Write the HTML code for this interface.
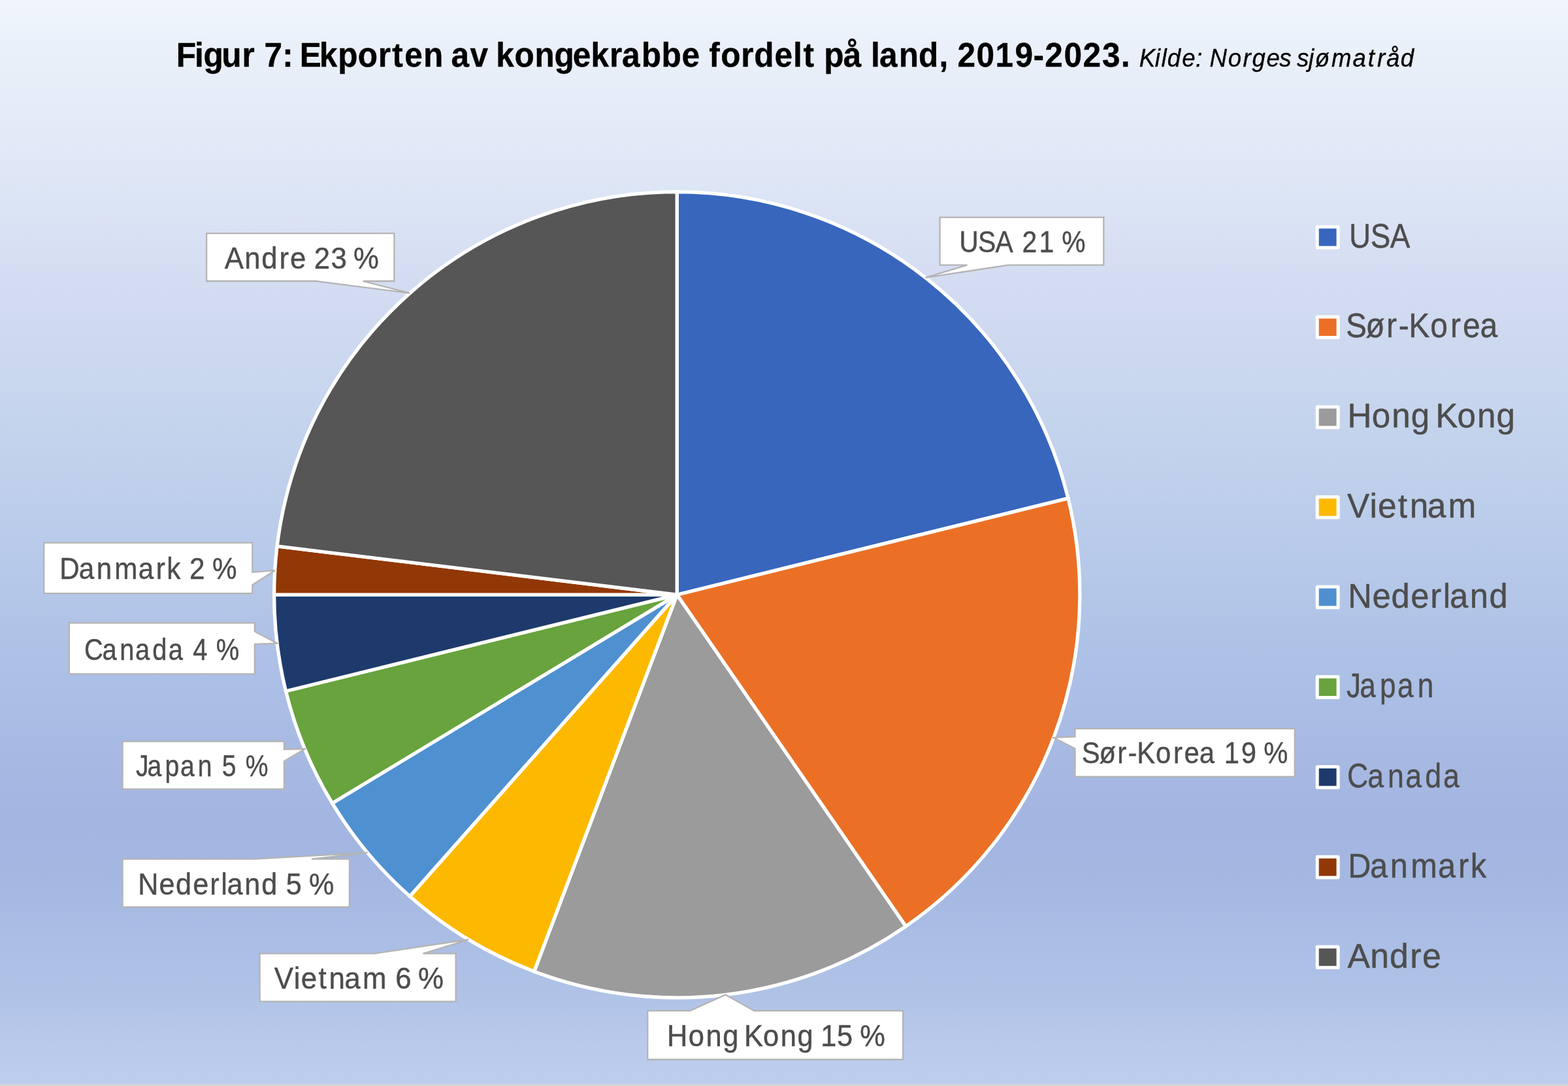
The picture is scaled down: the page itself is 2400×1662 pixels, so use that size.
<!DOCTYPE html>
<html lang="no">
<head>
<meta charset="utf-8">
<title>Figur 7: Ekporten av kongekrabbe fordelt på land, 2019-2023</title>
<style>
html,body{margin:0;padding:0;background:#BFCFEE;}
body{width:2400px;height:1662px;overflow:hidden;}
svg{display:block;}
text{font-family:"Liberation Sans",sans-serif;white-space:pre;}
</style>
</head>
<body>
<svg width="2400" height="1662" viewBox="0 0 2400 1662">
<defs><linearGradient id="bg" gradientUnits="userSpaceOnUse" x1="0" y1="0" x2="0" y2="1662">
<stop offset="0.00000" stop-color="#F0F4FD"/>
<stop offset="0.03610" stop-color="#EBF1FA"/>
<stop offset="0.12034" stop-color="#E3EAF7"/>
<stop offset="0.18051" stop-color="#DCE5F5"/>
<stop offset="0.24970" stop-color="#D5DDF2"/>
<stop offset="0.36101" stop-color="#C8D6EE"/>
<stop offset="0.50000" stop-color="#B9CBEA"/>
<stop offset="0.60168" stop-color="#AEC1E6"/>
<stop offset="0.75211" stop-color="#A3B5E1"/>
<stop offset="0.80024" stop-color="#A4B7E1"/>
<stop offset="0.84236" stop-color="#A8BBE3"/>
<stop offset="0.90253" stop-color="#AEC1E6"/>
<stop offset="0.93261" stop-color="#B3C5E8"/>
<stop offset="0.96270" stop-color="#B9CAEB"/>
<stop offset="0.99819" stop-color="#BECEED"/>
</linearGradient></defs>
<rect x="0" y="0" width="2400" height="1662" fill="url(#bg)"/>
<rect x="0" y="1659.3" width="2400" height="2.7" fill="#d6d6d6"/>
<g stroke="#ffffff" stroke-width="5.3" stroke-linejoin="round">
<path d="M1036.2,910.2 L1036.20,293.60 A616.6,616.6 0 0 1 1634.88,762.64 Z" fill="#3866BD"/>
<path d="M1036.2,910.2 L1634.88,762.64 A616.6,616.6 0 0 1 1386.47,1417.65 Z" fill="#EB7026"/>
<path d="M1036.2,910.2 L1386.47,1417.65 A616.6,616.6 0 0 1 817.55,1486.73 Z" fill="#9B9B9B"/>
<path d="M1036.2,910.2 L817.55,1486.73 A616.6,616.6 0 0 1 627.32,1371.73 Z" fill="#FDB900"/>
<path d="M1036.2,910.2 L627.32,1371.73 A616.6,616.6 0 0 1 508.53,1229.19 Z" fill="#4F90D0"/>
<path d="M1036.2,910.2 L508.53,1229.19 A616.6,616.6 0 0 1 437.52,1057.76 Z" fill="#68A33D"/>
<path d="M1036.2,910.2 L437.52,1057.76 A616.6,616.6 0 0 1 419.60,910.20 Z" fill="#1E3A6C"/>
<path d="M1036.2,910.2 L419.60,910.20 A616.6,616.6 0 0 1 424.10,835.88 Z" fill="#923806"/>
<path d="M1036.2,910.2 L424.10,835.88 A616.6,616.6 0 0 1 1036.20,293.60 Z" fill="#565656"/>
</g>
<g fill="#ffffff" stroke="#b4b4b4" stroke-width="2.3" stroke-linejoin="miter">
<path d="M1438.55,332.65 L1689.30,332.65 L1689.30,405.70 L1543.03,405.70 L1416.47,424.82 L1480.34,405.70 L1438.55,405.70 Z"/>
<path d="M316.15,357.05 L603.35,357.05 L603.35,430.25 L555.48,430.25 L627.32,448.67 L483.68,430.25 L316.15,430.25 Z"/>
<path d="M67.25,830.55 L386.35,830.55 L386.35,875.82 L420.72,872.97 L386.35,895.22 L386.35,908.15 L67.25,908.15 Z"/>
<path d="M105.85,953.45 L389.85,953.45 L389.85,966.43 L424.10,984.52 L389.85,985.91 L389.85,1031.35 L105.85,1031.35 Z"/>
<path d="M187.60,1134.60 L434.90,1134.60 L434.90,1146.76 L466.54,1146.16 L434.90,1165.00 L434.90,1207.55 L187.60,1207.55 Z"/>
<path d="M187.60,1314.65 L390.19,1314.65 L562.53,1304.96 L477.02,1314.65 L534.90,1314.65 L534.90,1388.15 L187.60,1388.15 Z"/>
<path d="M397.65,1459.35 L572.65,1459.35 L717.21,1437.87 L647.65,1459.35 L697.65,1459.35 L697.65,1532.70 L397.65,1532.70 Z"/>
<path d="M991.25,1546.85 L1056.40,1546.85 L1110.52,1522.30 L1154.12,1546.85 L1382.15,1546.85 L1382.15,1621.50 L991.25,1621.50 Z"/>
<path d="M1645.45,1115.15 L1981.75,1115.15 L1981.75,1188.55 L1645.45,1188.55 L1645.45,1145.73 L1612.73,1128.85 L1645.45,1127.38 Z"/>
</g>
<g>
<text transform="scale(0.8908,1)" x="1648.36 1680.55 1710.16 1741.81 1756.25 1785.41 1811.95 1824.58" y="386.40" font-size="45.86" font-weight="normal" font-style="normal" fill="#4d4d4d" stroke="#4d4d4d" stroke-width="0.45" stroke-linejoin="round">USA 21 %</text>
<text transform="scale(0.9548,1)" x="360.15 391.98 419.16 447.76 465.01 490.83 503.45 530.50 556.27 566.68" y="411.10" font-size="45.86" font-weight="normal" font-style="normal" fill="#4d4d4d" stroke="#4d4d4d" stroke-width="0.45" stroke-linejoin="round">Andre 23 %</text>
<text transform="scale(0.9208,1)" x="99.17 131.22 160.41 190.34 229.92 259.30 277.18 301.29 314.85 341.40 352.95" y="886.40" font-size="45.86" font-weight="normal" font-style="normal" fill="#4d4d4d" stroke="#4d4d4d" stroke-width="0.45" stroke-linejoin="round">Danmark 2 %</text>
<text transform="scale(0.8701,1)" x="148.28 179.74 210.58 237.92 268.11 296.11 324.30 339.48 366.76 380.17" y="1009.60" font-size="45.86" font-weight="normal" font-style="normal" fill="#4d4d4d" stroke="#4d4d4d" stroke-width="0.45" stroke-linejoin="round">Canada 4 %</text>
<text transform="scale(0.8527,1)" x="243.81 264.34 296.06 323.71 355.15 383.25 398.48 426.56 440.66" y="1187.80" font-size="45.86" font-weight="normal" font-style="normal" fill="#4d4d4d" stroke="#4d4d4d" stroke-width="0.45" stroke-linejoin="round">Japan 5 %</text>
<text transform="scale(0.9420,1)" x="224.16 258.61 285.52 313.34 341.08 359.03 368.82 397.37 424.92 452.13 464.71 491.34 502.17" y="1369.00" font-size="45.86" font-weight="normal" font-style="normal" fill="#4d4d4d" stroke="#4d4d4d" stroke-width="0.45" stroke-linejoin="round">Nederland 5 %</text>
<text transform="scale(0.9572,1)" x="438.63 469.78 481.35 509.39 526.02 550.79 579.79 619.72 632.33 658.31 668.65" y="1513.40" font-size="45.86" font-weight="normal" font-style="normal" fill="#4d4d4d" stroke="#4d4d4d" stroke-width="0.45" stroke-linejoin="round">Vietnam 6 %</text>
<text transform="scale(0.9482,1)" x="1076.88 1111.27 1139.41 1166.60 1190.99 1201.31 1231.88 1260.02 1287.21 1311.60 1324.81 1350.95 1377.49 1388.12" y="1601.40" font-size="45.86" font-weight="normal" font-style="normal" fill="#4d4d4d" stroke="#4d4d4d" stroke-width="0.45" stroke-linejoin="round">Hong Kong 15 %</text>
<text transform="scale(0.9098,1)" x="1820.03 1849.22 1879.71 1897.77 1912.82 1944.50 1973.97 1992.26 2017.71 2045.27 2059.61 2088.00 2113.95 2125.89" y="1168.50" font-size="45.86" font-weight="normal" font-style="normal" fill="#4d4d4d" stroke="#4d4d4d" stroke-width="0.45" stroke-linejoin="round">Sør-Korea 19 %</text>
<rect x="2016.2" y="347.20" width="31.9" height="31.7" fill="#3866BD" stroke="#ffffff" stroke-width="5" stroke-linejoin="round"/>
<text transform="scale(0.8739,1)" x="2362.86 2400.33 2434.82" y="378.70" font-size="52.42" font-weight="normal" font-style="normal" fill="#4d4d4d" stroke="#4d4d4d" stroke-width="0.45" stroke-linejoin="round">USA</text>
<rect x="2016.2" y="484.92" width="31.9" height="31.7" fill="#EB7026" stroke="#ffffff" stroke-width="5" stroke-linejoin="round"/>
<text transform="scale(0.9146,1)" x="2252.23 2285.41 2320.10 2340.64 2357.69 2393.74 2427.27 2448.04 2476.96" y="516.46" font-size="52.42" font-weight="normal" font-style="normal" fill="#4d4d4d" stroke="#4d4d4d" stroke-width="0.45" stroke-linejoin="round">Sør-Korea</text>
<rect x="2016.2" y="622.65" width="31.9" height="31.7" fill="#9B9B9B" stroke="#ffffff" stroke-width="5" stroke-linejoin="round"/>
<text transform="scale(0.9751,1)" x="2115.08 2153.42 2184.69 2214.93 2242.41 2253.35 2287.46 2318.73 2348.96" y="654.22" font-size="52.42" font-weight="normal" font-style="normal" fill="#4d4d4d" stroke="#4d4d4d" stroke-width="0.45" stroke-linejoin="round">Hong Kong</text>
<rect x="2016.2" y="760.38" width="31.9" height="31.7" fill="#FDB900" stroke="#ffffff" stroke-width="5" stroke-linejoin="round"/>
<text transform="scale(0.9795,1)" x="2105.27 2140.33 2153.05 2184.52 2202.93 2230.57 2262.82" y="791.98" font-size="52.42" font-weight="normal" font-style="normal" fill="#4d4d4d" stroke="#4d4d4d" stroke-width="0.45" stroke-linejoin="round">Vietnam</text>
<rect x="2016.2" y="898.10" width="31.9" height="31.7" fill="#4F90D0" stroke="#ffffff" stroke-width="5" stroke-linejoin="round"/>
<text transform="scale(0.9661,1)" x="2135.61 2174.11 2204.11 2235.10 2266.13 2286.24 2296.89 2328.74 2359.45" y="929.74" font-size="52.42" font-weight="normal" font-style="normal" fill="#4d4d4d" stroke="#4d4d4d" stroke-width="0.45" stroke-linejoin="round">Nederland</text>
<rect x="2016.2" y="1035.83" width="31.9" height="31.7" fill="#68A33D" stroke="#ffffff" stroke-width="5" stroke-linejoin="round"/>
<text transform="scale(0.8412,1)" x="2450.21 2474.05 2510.79 2542.83 2579.24" y="1067.50" font-size="52.42" font-weight="normal" font-style="normal" fill="#4d4d4d" stroke="#4d4d4d" stroke-width="0.45" stroke-linejoin="round">Japan</text>
<rect x="2016.2" y="1173.55" width="31.9" height="31.7" fill="#1E3A6C" stroke="#ffffff" stroke-width="5" stroke-linejoin="round"/>
<text transform="scale(0.8522,1)" x="2419.77 2456.41 2492.36 2524.29 2559.47 2592.17" y="1205.26" font-size="52.42" font-weight="normal" font-style="normal" fill="#4d4d4d" stroke="#4d4d4d" stroke-width="0.45" stroke-linejoin="round">Canada</text>
<rect x="2016.2" y="1311.27" width="31.9" height="31.7" fill="#923806" stroke="#ffffff" stroke-width="5" stroke-linejoin="round"/>
<text transform="scale(0.9283,1)" x="2222.68 2259.05 2292.15 2326.02 2370.94 2404.29 2424.52" y="1343.02" font-size="52.42" font-weight="normal" font-style="normal" fill="#4d4d4d" stroke="#4d4d4d" stroke-width="0.45" stroke-linejoin="round">Danmark</text>
<rect x="2016.2" y="1449.00" width="31.9" height="31.7" fill="#565656" stroke="#ffffff" stroke-width="5" stroke-linejoin="round"/>
<text transform="scale(0.9856,1)" x="2092.52 2127.84 2157.96 2189.75 2208.70" y="1480.78" font-size="52.42" font-weight="normal" font-style="normal" fill="#4d4d4d" stroke="#4d4d4d" stroke-width="0.45" stroke-linejoin="round">Andre</text>
<text transform="scale(0.9492,1)" x="284.12 314.02 328.14 357.49 390.25 411.30 426.20 455.27 472.28 483.25 514.95 544.95 577.18 609.81 632.48 652.40 682.67 714.69 727.33 757.98 786.79 799.98 829.77 862.39 893.83 923.65 953.02 982.95 1002.98 1034.36 1066.80 1099.30 1129.14 1143.37 1162.24 1194.87 1215.94 1248.94 1279.00 1295.26 1314.59 1328.76 1359.88 1390.53 1404.41 1418.03 1449.30 1481.34 1514.36 1529.35 1543.92 1574.48 1605.05 1636.77 1666.14 1684.97 1715.54 1746.25 1777.40 1807.46" y="102.10" font-size="52.22" font-weight="bold" font-style="normal" fill="#000000" stroke="#000000" stroke-width="0.4" stroke-linejoin="round">Figur 7: Ekporten av kongekrabbe fordelt på land, 2019-2023.</text>
<text transform="scale(0.9274,1)" x="1880.19 1906.02 1916.55 1926.60 1950.77 1973.32 1985.27 1996.56 2026.81 2051.36 2066.51 2090.19 2111.69 2130.36 2140.41 2159.88 2170.39 2197.48 2232.71 2257.74 2273.03 2288.25 2311.69" y="102.10" font-size="39.4" font-weight="normal" font-style="italic" fill="#000000" stroke="#000000" stroke-width="0.35" stroke-linejoin="round">Kilde: Norges sjømatråd</text>
</g>
</svg>
</body>
</html>
